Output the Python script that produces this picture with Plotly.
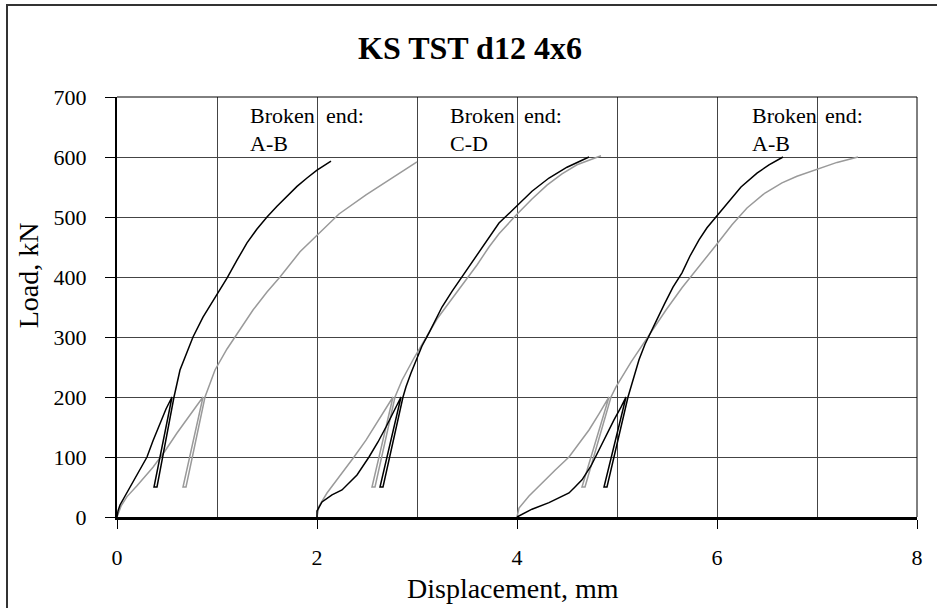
import plotly.graph_objects as go

# ---- data (displacement mm, load kN) ----
t1_black_x = [0.0, 0.01, 0.03, 0.08, 0.16, 0.23, 0.30, 0.36, 0.43, 0.49, 0.55, 0.37, 0.40, 0.57,
              0.63, 0.70, 0.76, 0.86, 0.98, 1.10, 1.20, 1.30, 1.40, 1.50, 1.60, 1.70, 1.80, 1.90, 2.00, 2.14]
t1_black_y = [0, 10, 20, 35, 58, 78, 100, 127, 157, 180, 200, 50, 50, 200,
              245, 275, 300, 333, 366, 398, 428, 457, 480, 500, 518, 535, 551, 565, 578, 593]
t1_gray_x = [0.0, 0.04, 0.10, 0.20, 0.36, 0.48, 0.60, 0.73, 0.86, 0.66, 0.69, 0.88,
             0.93, 0.98, 1.10, 1.23, 1.36, 1.50, 1.63, 1.83, 2.00, 2.22, 2.49, 2.72, 2.86, 3.00]
t1_gray_y = [0, 18, 34, 52, 83, 110, 140, 170, 200, 50, 50, 200,
             222, 245, 280, 312, 345, 375, 400, 442, 470, 505, 537, 562, 578, 592]

t2_black_x = [2.0, 2.0, 2.05, 2.15, 2.25, 2.40, 2.52, 2.61, 2.69, 2.77, 2.84, 2.63, 2.66, 2.86,
              2.89, 2.94, 2.99, 3.05, 3.12, 3.25, 3.35, 3.45, 3.60, 3.72, 3.82, 3.99, 4.15, 4.32, 4.50, 4.72]
t2_black_y = [0, 10, 25, 37, 45, 70, 100, 125, 150, 177, 200, 50, 50, 200,
              217, 240, 262, 285, 307, 350, 376, 400, 438, 466, 490, 517, 543, 565, 583, 600]
t2_gray_x = [2.0, 2.02, 2.10, 2.25, 2.37, 2.49, 2.62, 2.76, 2.55, 2.58, 2.78,
             2.85, 2.97, 3.09, 3.20, 3.32, 3.45, 3.60, 3.72, 3.82, 3.99, 4.15, 4.30, 4.45, 4.60, 4.84]
t2_gray_y = [0, 18, 40, 73, 100, 128, 163, 200, 50, 50, 200,
             228, 265, 300, 330, 357, 387, 420, 450, 472, 503, 530, 553, 572, 587, 602]

t3_black_x = [4.0, 4.08, 4.15, 4.32, 4.42, 4.52, 4.58, 4.65, 4.74, 4.82, 4.90, 4.97, 5.04, 5.09, 4.87, 4.90, 5.11,
              5.16, 5.22, 5.28, 5.35, 5.41, 5.48, 5.56, 5.65, 5.73, 5.82, 5.90, 5.99, 6.10, 6.24, 6.40, 6.52, 6.66]
t3_black_y = [0, 7, 13, 24, 32, 40, 50, 62, 85, 112, 137, 162, 183, 200, 50, 50, 200,
              230, 262, 288, 312, 335, 357, 383, 407, 435, 462, 482, 500, 523, 550, 573, 587, 600]
t3_gray_x = [4.0, 4.02, 4.12, 4.25, 4.38, 4.52, 4.62, 4.72, 4.82, 4.92, 4.65, 4.68, 4.94,
             4.99, 5.14, 5.29, 5.39, 5.49, 5.65, 5.82, 5.99, 6.15, 6.30, 6.48, 6.65, 6.80, 6.98, 7.20, 7.41]
t3_gray_y = [0, 15, 35, 57, 78, 100, 122, 145, 172, 200, 50, 50, 200,
             217, 258, 296, 320, 345, 382, 417, 453, 487, 515, 540, 557, 568, 578, 591, 600]

x_ticks = [0, 2, 4, 6, 8]
y_ticks = [0, 100, 200, 300, 400, 500, 600, 700]
broken_labels = ["A-B", "C-D", "A-B"]

FONT = "Liberation Serif, Times New Roman, serif"
BLACK = "#000000"
GRAY = "#9a9a9a"

fig = go.Figure()
for gx, gy, bx, by in [
    (t1_gray_x, t1_gray_y, t1_black_x, t1_black_y),
    (t2_gray_x, t2_gray_y, t2_black_x, t2_black_y),
    (t3_gray_x, t3_gray_y, t3_black_x, t3_black_y),
]:
    fig.add_trace(go.Scatter(x=gx, y=gy, mode="lines", line=dict(color=GRAY, width=1.5), showlegend=False))
    fig.add_trace(go.Scatter(x=bx, y=by, mode="lines", line=dict(color=BLACK, width=1.5), showlegend=False))

# annotations "Broken end:" / label
ann_pos = [(1.31, 2.07), (3.31, 4.05), (6.33, 7.06)]
for (xb, xe), lab in zip(ann_pos, broken_labels):
    fig.add_annotation(x=xb, y=670, text="Broken", showarrow=False, xanchor="left", yanchor="middle",
                       font=dict(family=FONT, size=22, color="black"))
    fig.add_annotation(x=xe, y=670, text="end:", showarrow=False, xanchor="left", yanchor="middle",
                       font=dict(family=FONT, size=22, color="black"))
    fig.add_annotation(x=xb, y=622, text=lab, showarrow=False, xanchor="left", yanchor="middle",
                       font=dict(family=FONT, size=22, color="black"))

# axis titles
fig.add_annotation(xref="paper", yref="paper", x=0.495, y=-0.17, text="Displacement, mm", showarrow=False,
                   xanchor="center", yanchor="middle", font=dict(family=FONT, size=28, color="black"))
fig.add_annotation(xref="paper", yref="paper", x=-0.111, y=0.576, text="Load, kN", showarrow=False,
                   textangle=-90, xanchor="center", yanchor="middle", font=dict(family=FONT, size=28, color="black"))

# borders
fig.add_shape(type="rect", xref="paper", yref="paper", x0=-0.1375, x1=1.05, y0=-0.26, y1=1.219,
              line=dict(color="#333333", width=2), layer="below")
fig.add_shape(type="line", xref="paper", yref="paper", x0=0, x1=1, y0=1, y1=1, line=dict(color="black", width=1))
fig.add_shape(type="line", xref="paper", yref="paper", x0=1, x1=1, y0=0, y1=1, line=dict(color="black", width=1))

fig.update_layout(
    width=937, height=608,
    margin=dict(l=117, r=20, t=97, b=91),
    paper_bgcolor="white", plot_bgcolor="white",
    title=dict(text="<b>KS TST d12 4x6</b>", x=470 / 937, xref="container", xanchor="center",
               y=1 - 48 / 608, yanchor="middle",
               font=dict(family=FONT, size=32, color="black")),
    font=dict(family=FONT, color="black"),
)
fig.update_xaxes(range=[0, 8], tickvals=x_ticks, ticktext=[str(v) for v in x_ticks],
                 ticks="outside", ticklen=9, tickcolor="black", tickwidth=1,
                 showgrid=True, gridcolor="#444444", gridwidth=1,
                 minor=dict(dtick=1, showgrid=True, gridcolor="#444444", gridwidth=1),
                 showline=True, linecolor="black", linewidth=3, zeroline=False,
                 tickfont=dict(family=FONT, size=22, color="black"), ticklabelstandoff=10)
fig.update_yaxes(range=[0, 700], tickvals=y_ticks, ticktext=[str(v) for v in y_ticks],
                 ticks="outside", ticklen=10, tickcolor="black", tickwidth=1,
                 showgrid=True, gridcolor="#444444", gridwidth=1,
                 showline=True, linecolor="black", linewidth=2, zeroline=False,
                 tickfont=dict(family=FONT, size=22, color="black"), ticklabelstandoff=14)

fig.write_html("out.html")
